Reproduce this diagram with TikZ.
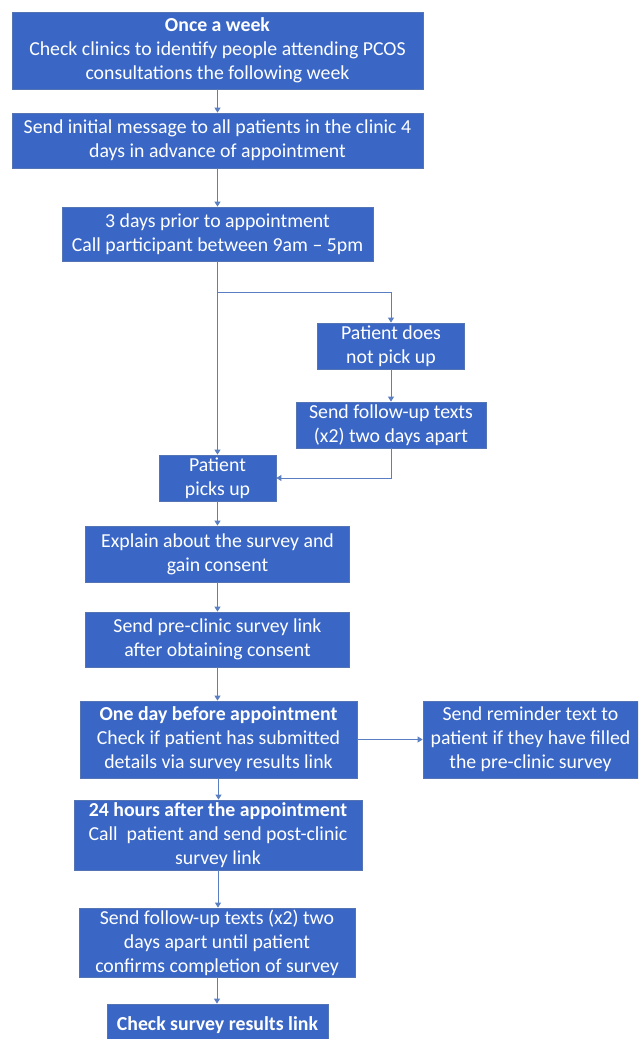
\documentclass[tikz,border=0pt]{standalone}
\usepackage{fontspec}
\setmainfont{Carlito}
\usetikzlibrary{arrows.meta}
\definecolor{boxfill}{HTML}{3A67C6}
\definecolor{boxline}{HTML}{5474B4}
\definecolor{conn}{HTML}{5A7EC2}
\begin{document}
\begin{tikzpicture}[x=1pt,y=-1pt,
  flowbox/.style={draw=boxline, line width=0.8pt, fill=boxfill, text=white, align=center,
    font=\fontsize{19.8}{24}\selectfont, inner sep=0pt},
  conn/.style={draw=conn, line width=1pt, -{Triangle[width=6pt,length=5pt]}}]
\useasboundingbox (0,0) rectangle (638,1039);
\clip (0,0) rectangle (638,1039);
\node[flowbox, minimum width=411pt, minimum height=77pt] (b1) at (217.5,50.5)
  {\textbf{Once a week}\\Check clinics to identify people attending PCOS\\consultations the following week};
\node[flowbox, minimum width=411pt, minimum height=55pt] (b2) at (217.5,140.5)
  {Send initial message to all patients in the clinic 4\\days in advance of appointment};
\node[flowbox, minimum width=311pt, minimum height=54pt] (b3) at (217.5,234)
  {3 days prior to appointment\\Call participant between 9am – 5pm};
\node[flowbox, minimum width=147pt, minimum height=46pt] (b4) at (391,346)
  {Patient does\\not pick up};
\node[flowbox, minimum width=190pt, minimum height=46pt] (b5) at (391,425)
  {Send follow-up texts\\(x2) two days apart};
\node[flowbox, minimum width=117pt, minimum height=46pt] (b6) at (217.5,478)
  {Patient\\picks up};
\node[flowbox, minimum width=264pt, minimum height=56pt] (b7) at (217.5,554)
  {Explain about the survey and\\gain consent};
\node[flowbox, minimum width=264pt, minimum height=55pt] (b8) at (217.5,639.5)
  {Send pre-clinic survey link\\after obtaining consent};
\node[flowbox, minimum width=277pt, minimum height=77pt] (b9) at (218.5,739.5)
  {\textbf{One day before appointment}\\Check if patient has submitted\\details via survey results link};
\node[flowbox, minimum width=215pt, minimum height=77pt] (b10) at (530.5,739.5)
  {Send reminder text to\\patient if they have filled\\the pre-clinic survey};
\node[flowbox, minimum width=288pt, minimum height=70pt] (b11) at (218,835)
  {\textbf{24 hours after the appointment}\\Call\ \ patient and send post-clinic\\survey link};
\node[flowbox, minimum width=276pt, minimum height=69pt] (b12) at (217,942.5)
  {Send follow-up texts (x2) two\\days apart until patient\\confirms completion of survey};
\node[flowbox, minimum width=221pt, minimum height=42pt] (b13) at (217.5,1025)
  {\textbf{Check survey results link}};
\coordinate (br) at (217.5,292);
\coordinate (bc) at (391,292);
\coordinate (rt) at (391,478);
\path[conn] (b1) -- (b2);
\path[conn] (b2) -- (b3);
\path[conn] (b3.south) -- (b6.north);
\path[conn] (br) -- (bc) -- (b4.north);
\path[conn] (b4) -- (b5);
\path[conn] (b5.south) -- (rt) -- (b6.east);
\path[conn] (b6) -- (b7);
\path[conn] (b7) -- (b8);
\path[conn] (b8.south) -- (b8.south |- b9.north);
\path[conn] (b9) -- (b10);
\path[conn] (b9.south) -- (b9.south |- b11.north);
\path[conn] (b11.south) -- (b11.south |- b12.north);
\path[conn] (b12.south) -- (b12.south |- b13.north);
\end{tikzpicture}
\end{document}
